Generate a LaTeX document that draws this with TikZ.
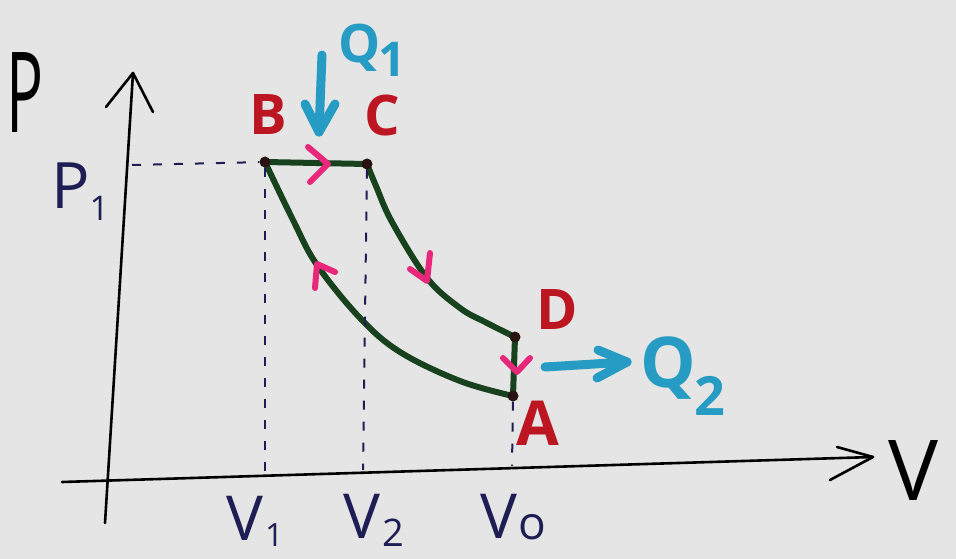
\documentclass[tikz,border=0pt]{standalone}
\usepackage{fontspec}
\setmainfont{Open Sans}
\definecolor{bgc}{RGB}{229,229,229}
\definecolor{grn}{RGB}{24,66,30}
\definecolor{redl}{RGB}{188,22,34}
\definecolor{cyn}{RGB}{38,156,196}
\definecolor{pnk}{RGB}{232,38,122}
\definecolor{navy}{RGB}{30,30,85}
\definecolor{dotc}{RGB}{40,18,18}
\newcommand\myfs[1]{\fontsize{#1}{#1}\selectfont}
\pgfdeclarelayer{back}
\pgfsetlayers{back,main}
\begin{document}
\begin{tikzpicture}[x=1pt,y=-1pt,
  axis/.style={line width=2.6pt, black, line cap=round, line join=round},
  curve/.style={line width=6pt, grn, line cap=round, line join=round},
  dsh/.style={line width=2pt, navy, dash pattern=on 9pt off 12pt},
  chev/.style={line width=6pt, pnk, line cap=round, line join=round},
  heat/.style={line width=9pt, cyn, line cap=round, line join=round},
  dot/.style={circle, fill=dotc, inner sep=0pt, minimum size=11pt},
  ptlab/.style={redl, font=\myfs{56}\bfseries, inner sep=0pt},
  qlab/.style={cyn, inner sep=0pt, anchor=base west},
  thinlab/.style={navy, inner sep=0pt, anchor=base west},
]
\begin{pgfonlayer}{back}
\fill[bgc] (0,0) rectangle (956,559);
\end{pgfonlayer}
\useasboundingbox (0,0) rectangle (956,559);

% state points
\node[dot] (B) at (265,162) {};
\node[dot] (C) at (367,164) {};
\node[dot] (D) at (515,337) {};
\node[dot] (A) at (513,396) {};

% axes
\coordinate (yb) at (105,523);
\coordinate (yt) at (133,73);
\coordinate (yl) at (106,107);
\coordinate (yr) at (153,112);
\coordinate (xl) at (62,482);
\coordinate (xt) at (873,457);
\coordinate (xu) at (837,447);
\coordinate (xd) at (830,480);
\draw[axis] (yb) -- (yt);
\draw[axis] (yl) -- (yt) -- (yr);
\draw[axis] (xl) -- (xt);
\draw[axis] (xu) -- (xt) -- (xd);

% dashed guides
\coordinate (p1y) at (132,165);
\coordinate (v1x) at (265,475);
\coordinate (v2x) at (363,470);
\coordinate (v0x) at (512,466);
\draw[dsh] (p1y) -- (B);
\draw[dsh] (B) -- (v1x);
\draw[dsh] (C) -- (v2x);
\draw[dsh] (A) -- (v0x);

% cycle
\begin{pgfonlayer}{back}
\draw[curve] (B.center) -- (C.center);
\draw[curve] plot[smooth, tension=0.6] coordinates {(C.center) (376,186) (392,222) (427,278) (460,308) (485,322) (D.center)};
\draw[curve] (D.center) -- (A.center);
\draw[curve] plot[smooth, tension=0.6] coordinates {(B.center) (293,220) (317,265) (360,318) (400,352) (460,381) (A.center)};
\end{pgfonlayer}

% direction chevrons
\draw[chev] (308,147) -- (328,164) -- (310,182);
\draw[chev] (410,269) -- (427,281) -- (430,253);
\draw[chev] (503,358) -- (517,372) -- (530,358);
\draw[chev] (335,272) -- (317,264) -- (315,288);

% heat arrows
\coordinate (q1s) at (322,55);
\coordinate (q1t) at (319,132);
\coordinate (q1l) at (305,104);
\coordinate (q1r) at (335,104);
\draw[heat] (q1s) -- (q1t);
\draw[heat] (q1l) -- (q1t) -- (q1r);
\coordinate (q2s) at (545,367);
\coordinate (q2t) at (627,362);
\coordinate (q2u) at (598,350);
\coordinate (q2d) at (597,378);
\draw[heat] (q2s) -- (q2t);
\draw[heat] (q2u) -- (q2t) -- (q2d);

% point labels
\node[ptlab] (Blab) at (268,115) {B};
\node[ptlab] (Clab) at (382,115) {C};
\node[ptlab] (Dlab) at (557,310) {D};
\node[ptlab, font=\myfs{62}\bfseries] (Alab) at (538,423) {A};

% heat labels
\node[qlab, font=\myfs{53}\bfseries] (Q1) at (338,63) {Q\hspace{-2pt}\raisebox{-14pt}{\myfs{48}1}};
\node[qlab, font=\myfs{70}\bfseries] (Q2) at (640,387) {Q\hspace{-1pt}\raisebox{-28pt}{\myfs{54}2}};

% axis labels
\node[thinlab, black, font=\myfs{112}] (Plab) at (6,133) {\scalebox{0.55}[1]{P}};
\node[thinlab, black, font=\myfs{84}] (Vlab) at (888,500) {V};
\node[thinlab, font=\myfs{64}] (P1) at (51,208) {P\hspace{0pt}\raisebox{-12pt}{\myfs{34}1}};
\node[thinlab, font=\myfs{62}] (V1) at (226,540) {V\hspace{2pt}\raisebox{-6pt}{\myfs{32}1}};
\node[thinlab, font=\myfs{62}] (V2) at (343,538) {V\hspace{2pt}\raisebox{-8pt}{\myfs{38}2}};
\node[thinlab, font=\myfs{62}] (V0) at (480,538) {V\hspace{1pt}\raisebox{-1pt}{\myfs{46}o}};
\end{tikzpicture}
\end{document}
